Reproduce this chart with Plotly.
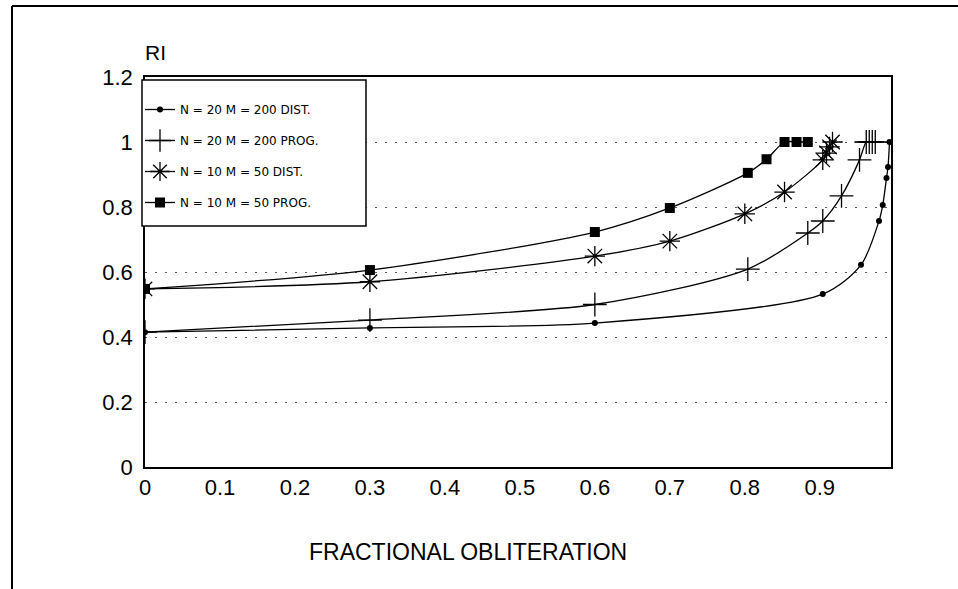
import plotly.graph_objects as go

# ---- data ----
x_d20 = [0, 0.30, 0.60, 0.904, 0.955, 0.979, 0.984, 0.989, 0.991, 0.993]
y_d20 = [0.415, 0.428, 0.443, 0.532, 0.622, 0.757, 0.806, 0.889, 0.923, 1.0]

x_p20 = [0, 0.30, 0.60, 0.804, 0.884, 0.904, 0.929, 0.953, 0.962, 0.966, 0.970, 0.974]
y_p20 = [0.415, 0.452, 0.50, 0.609, 0.72, 0.757, 0.834, 0.945, 1.0, 1.0, 1.0, 1.0]

x_d10 = [0, 0.30, 0.60, 0.70, 0.80, 0.853, 0.904, 0.909, 0.913, 0.917]
y_d10 = [0.548, 0.57, 0.649, 0.695, 0.779, 0.846, 0.945, 0.966, 0.985, 1.0]

x_p10 = [0, 0.30, 0.60, 0.70, 0.804, 0.829, 0.853, 0.869, 0.884]
y_p10 = [0.548, 0.606, 0.723, 0.797, 0.905, 0.947, 1.0, 1.0, 1.0]

series_names = ["N = 20 M = 200 DIST.", "N = 20 M = 200 PROG.",
                "N = 10 M = 50 DIST.", "N = 10 M = 50 PROG."]

x_tickvals = [0, 0.1, 0.2, 0.3, 0.4, 0.5, 0.6, 0.7, 0.8, 0.9]
x_ticktext = ["0", "0.1", "0.2", "0.3", "0.4", "0.5", "0.6", "0.7", "0.8", "0.9"]
y_tickvals = [0, 0.2, 0.4, 0.6, 0.8, 1.0, 1.2]
y_ticktext = ["0", "0.2", "0.4", "0.6", "0.8", "1", "1.2"]

FONT = "Liberation Sans, Arial, sans-serif"
W, H = 958, 589
L, R, T, B = 145, 891, 77, 467  # plot area in pixels


def px(xp):
    return (xp - L) / (R - L)


def py(yp):
    return (B - yp) / (B - T)


fig = go.Figure()

styles = [
    dict(symbol="circle", size=6, color="black"),
    dict(symbol="cross-thin-open", size=17, color="black", line=dict(width=1.3, color="black")),
    dict(symbol="asterisk-open", size=17, color="black", line=dict(width=1.3, color="black")),
    dict(symbol="square", size=10, color="black"),
]
data = [(x_d20, y_d20), (x_p20, y_p20), (x_d10, y_d10), (x_p10, y_p10)]

for i, ((xs, ys), name, mk) in enumerate(zip(data, series_names, styles)):
    fig.add_trace(go.Scatter(
        x=xs, y=ys, name=name, mode="lines+markers",
        line=dict(color="black", width=1.3, shape="spline", smoothing=0.8),
        marker=mk, legendgroup=f"g{i}",
    ))

# legend box
fig.add_shape(type="rect", xref="paper", yref="paper",
              x0=px(142), x1=px(366), y0=py(226), y1=py(80),
              line=dict(color="black", width=1.5), fillcolor="white", layer="above")

# outer scan frame (top and left edges)
fig.add_shape(type="line", xref="paper", yref="paper",
              x0=px(12), x1=px(958), y0=py(6), y1=py(6),
              line=dict(color="black", width=2))
fig.add_shape(type="line", xref="paper", yref="paper",
              x0=px(12), x1=px(12), y0=py(6), y1=py(589),
              line=dict(color="black", width=2))

fig.add_annotation(text="RI", xref="paper", yref="paper", x=px(155), y=py(52),
                   xanchor="center", yanchor="middle",
                   showarrow=False, font=dict(family=FONT, size=21, color="black"))
fig.add_annotation(text="FRACTIONAL OBLITERATION", xref="paper", yref="paper",
                   x=px(468), y=py(552), xanchor="center", yanchor="middle",
                   showarrow=False,
                   font=dict(family=FONT, size=23, color="black"))

fig.update_layout(
    width=W, height=H,
    margin=dict(l=L, r=W - R, t=T, b=H - B),
    paper_bgcolor="white", plot_bgcolor="white",
    font=dict(family=FONT, size=22, color="black"),
    showlegend=True,
    legend=dict(x=px(140), y=py(95), xanchor="left", yanchor="top",
                bgcolor="rgba(0,0,0,0)", borderwidth=0,
                font=dict(family="DejaVu Sans, sans-serif", size=12, color="black"),
                tracegroupgap=12, traceorder="grouped", itemwidth=30),
    xaxis=dict(range=[0, 0.995], tickvals=x_tickvals, ticktext=x_ticktext,
               showgrid=False, zeroline=False, showline=True, linecolor="black",
               linewidth=1.5, mirror=True, ticks="", ticklabelstandoff=0,
               tickfont=dict(size=22)),
    yaxis=dict(range=[0, 1.2], tickvals=y_tickvals, ticktext=y_ticktext,
               showgrid=True, gridcolor="#555", gridwidth=1, griddash="2px,8px",
               zeroline=False, showline=True, linecolor="black",
               linewidth=1.5, mirror=True, ticks="", ticklabelstandoff=6,
               tickfont=dict(size=22)),
)

fig.write_html("out.html")
